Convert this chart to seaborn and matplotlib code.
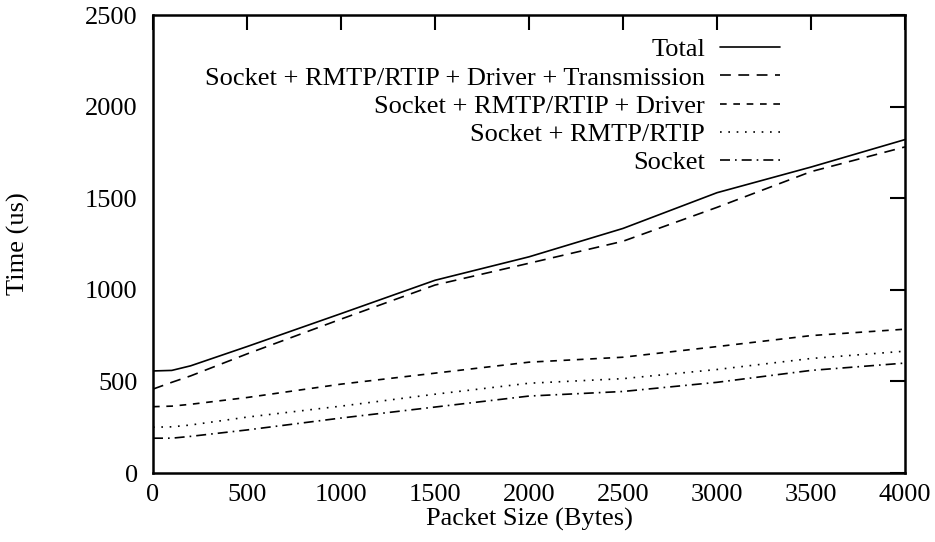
import matplotlib
matplotlib.use("Agg")
import matplotlib.pyplot as plt
import seaborn as sns
import pandas as pd

packet_size = [0, 100, 200, 500, 1000, 1500, 2000, 2500, 3000, 3500, 4000]
total = [557, 560, 585, 690, 870, 1052, 1180, 1335, 1530, 1670, 1820]
transmission = [458, 495, 530, 650, 840, 1026, 1145, 1265, 1450, 1645, 1780]
driver = [362, 365, 375, 412, 485, 545, 605, 632, 690, 750, 785]
rmtp = [250, 252, 262, 305, 365, 430, 490, 515, 565, 625, 665]
socket = [190, 190, 200, 235, 300, 360, 420, 445, 495, 560, 600]

labels = ["Total",
          "Socket + RMTP/RTIP + Driver + Transmission",
          "Socket + RMTP/RTIP + Driver",
          "Socket + RMTP/RTIP",
          "Socket"]
series = [total, transmission, driver, rmtp, socket]
styles = ["-", (0, (6.5, 4.5)), (0, (4, 4)), (0, (1, 4)), (0, (6, 3, 1, 3))]

sns.set_theme(style="white")
plt.rcParams["font.family"] = ["Liberation Serif", "DejaVu Serif"]
plt.rcParams["font.size"] = 19
for k in ["text.color", "axes.labelcolor", "xtick.color", "ytick.color", "axes.edgecolor"]:
    plt.rcParams[k] = "black"

fig = plt.figure(figsize=(9.35, 5.42), dpi=100)
ax = fig.add_axes([153 / 935, 1 - 473 / 542, (905 - 153) / 935, (473 - 15) / 542])

for lab, vals, ls in zip(labels, series, styles):
    df = pd.DataFrame({"x": packet_size, "y": vals})
    sns.lineplot(data=df, x="x", y="y", ax=ax, color="black", linewidth=1.2,
                 linestyle=ls, label=lab)

ax.set_xlim(0, 4000)
ax.set_ylim(0, 2500)
ax.set_xticks(range(0, 4001, 500))
ax.set_yticks(range(0, 2501, 500))
ax.set_xlabel("Packet Size (Bytes)", fontsize=19, labelpad=1)
ax.set_ylabel("Time (us)", fontsize=19, labelpad=40)
ax.tick_params(direction="in", length=11, width=1.5, top=True, right=True,
               labelsize=19, colors="black", pad=8)
ax.tick_params(axis="y", pad=11)
ax.tick_params(axis="x", pad=8)
for sp in ax.spines.values():
    sp.set_linewidth(1.8)
    sp.set_color("black")

leg = ax.legend(loc="upper right", bbox_to_anchor=(0.834, 0.950), frameon=False,
                markerfirst=False, handlelength=2.27, handletextpad=0.57,
                labelspacing=0.18, borderpad=0, borderaxespad=0, fontsize=19)
for col in leg._legend_handle_box.get_children():
    col.align = "right"

fig.savefig("out.png", dpi=100)
